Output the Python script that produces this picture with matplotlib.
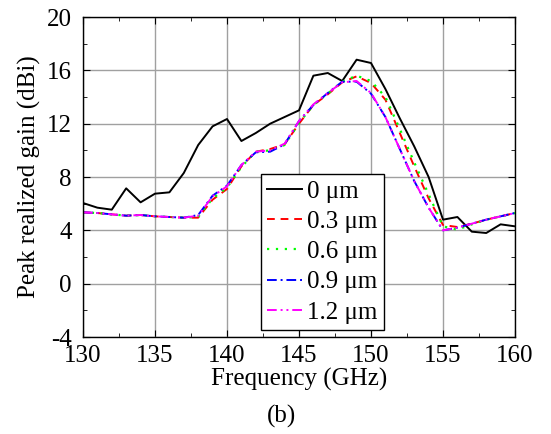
import numpy as np
import matplotlib
matplotlib.use('Agg')
import matplotlib.pyplot as plt
from matplotlib.ticker import MultipleLocator

plt.rcParams['font.family'] = 'serif'
plt.rcParams['font.serif'] = ['Liberation Serif', 'Times New Roman', 'DejaVu Serif']
plt.rcParams['axes.unicode_minus'] = False

# frequency points (GHz)
freq = np.arange(130, 161, 1)

# peak realized gain (dBi) for each thickness
g_0 = [6.05, 5.7, 5.55, 7.15, 6.1, 6.75, 6.85, 8.3, 10.4, 11.8, 12.35, 10.7, 11.3, 12.0, 12.5, 13.0,
       15.6, 15.8, 15.2, 16.8, 16.55, 14.6, 12.4, 10.3, 8.0, 4.8, 5.0, 3.9, 3.8, 4.45, 4.3]
g_03 = [5.35, 5.3, 5.2, 5.1, 5.15, 5.05, 5.0, 4.95, 4.95, 6.3, 7.1, 8.8, 9.9, 10.1, 10.45, 12.0,
        13.4, 14.2, 15.1, 15.55, 15.05, 13.8, 11.3, 8.8, 6.4, 4.4, 4.25, 4.5, 4.8, 5.05, 5.3]
g_06 = [5.35, 5.3, 5.2, 5.1, 5.15, 5.05, 5.0, 4.95, 5.0, 6.4, 7.2, 8.75, 9.9, 10.0, 10.4, 12.05,
        13.4, 14.25, 15.15, 15.6, 15.2, 14.0, 11.6, 9.1, 6.7, 4.3, 4.05, 4.45, 4.8, 5.05, 5.3]
g_09 = [5.35, 5.3, 5.2, 5.1, 5.15, 5.05, 5.0, 4.95, 5.15, 6.6, 7.35, 8.9, 9.85, 9.9, 10.45, 12.2,
        13.4, 14.3, 15.15, 15.15, 14.25, 12.5, 10.1, 7.7, 5.7, 4.0, 4.2, 4.5, 4.8, 5.05, 5.3]
g_12 = [5.35, 5.3, 5.2, 5.1, 5.15, 5.05, 5.0, 4.95, 5.1, 6.55, 7.3, 8.9, 9.9, 10.0, 10.5, 12.2,
        13.45, 14.3, 15.1, 15.2, 14.3, 12.5, 10.1, 7.7, 5.7, 4.0, 4.2, 4.5, 4.8, 5.05, 5.3]

labels = ['0 \u03bcm', '0.3 \u03bcm', '0.6 \u03bcm', '0.9 \u03bcm', '1.2 \u03bcm']

fig = plt.figure(figsize=(5.51, 4.34), dpi=100)
ax = fig.add_axes([0.1506, 0.2235, 0.7841, 0.7373])

ax.plot(freq, g_0, color='black', lw=1.4, ls='-', label=labels[0])
ax.plot(freq, g_03, color='#ff0000', lw=1.4, ls=(0, (4, 3)), label=labels[1])
ax.plot(freq, g_06, color='#00ff00', lw=1.6, ls=(0, (1, 3)), label=labels[2])
ax.plot(freq, g_09, color='#0000ff', lw=1.4, ls=(0, (5, 2, 1, 2)), label=labels[3])
ax.plot(freq, g_12, color='#ff00ff', lw=1.4, ls=(0, (5, 2, 1, 2, 1, 2)), label=labels[4])

ax.set_xlim(130, 160)
ax.set_ylim(-4, 20)
ax.xaxis.set_major_locator(MultipleLocator(5))
ax.xaxis.set_minor_locator(MultipleLocator(2.5))
ax.yaxis.set_major_locator(MultipleLocator(4))
ax.yaxis.set_minor_locator(MultipleLocator(2))
ax.grid(True, which='major', color='#a0a0a0', lw=1.0)
ax.set_axisbelow(True)
ax.tick_params(which='both', direction='in', top=True, right=True, labelsize=18)
ax.tick_params(axis='x', pad=6)
ax.tick_params(axis='y', pad=8)
ax.tick_params(which='major', length=5)
ax.tick_params(which='minor', length=3)
for s in ax.spines.values():
    s.set_linewidth(1.0)

ax.set_xlabel('Frequency (GHz)', fontsize=18, va='center')
ax.xaxis.set_label_coords(0.5, -0.133)
ax.set_ylabel('Peak realized gain (dBi)', fontsize=18, va='center')
ax.yaxis.set_label_coords(-0.125, 0.5)

leg = ax.legend(loc='lower left', bbox_to_anchor=(0.412, 0.022), fontsize=18, frameon=True,
                fancybox=False, edgecolor='black', framealpha=1, handlelength=1.4,
                handletextpad=0.2, borderpad=0.25, labelspacing=0.31, borderaxespad=0)
leg.get_frame().set_linewidth(1.0)

fig.text(281 / 551, 1 - 416 / 434, '(b)', fontsize=18, ha='center', va='center')

fig.savefig('out.png', dpi=100)
